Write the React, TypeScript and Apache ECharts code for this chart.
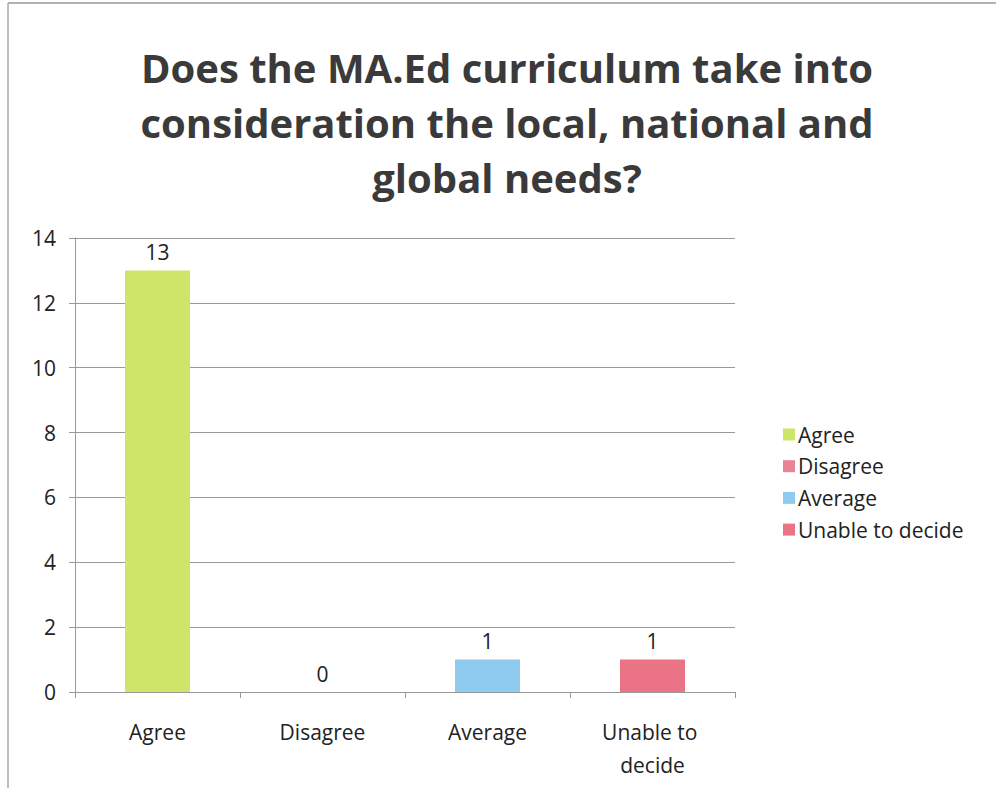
import React, { useEffect, useRef } from "react";
import * as echarts from "echarts";

const titleText = "Does the MA.Ed curriculum take into\nconsideration the local, national and\nglobal needs?";
const categories = ["Agree", "Disagree", "Average", "Unable to decide"];
const values = [13, 0, 1, 1];
const colors = ["#cfe56a", "#ea8494", "#8fcbef", "#ea7486"];
const yTicks = [0, 2, 4, 6, 8, 10, 12, 14];

export default function App() {
  const ref = useRef<HTMLDivElement>(null);
  useEffect(() => {
    if (!ref.current) return;
    const chart = echarts.init(ref.current, null, { renderer: "svg" });
    const font = "Open Sans";
    const series = categories.map((c, i) => ({
      name: c,
      type: "bar",
      stack: "all",
      barWidth: 65,
      data: categories.map((_, j) => (j === i ? values[j] : "-")),
      itemStyle: { color: colors[i] },
      label: {
        show: true,
        position: "top",
        distance: 8,
        color: "#222",
        fontFamily: font,
        fontSize: 21,
      },
    }));
    chart.setOption({
      animation: false,
      backgroundColor: "#fff",
      title: {
        text: titleText,
        left: 502,
        textAlign: "center",
        top: 35,
        textStyle: {
          fontFamily: font,
          fontWeight: "bold",
          fontSize: 40,
          lineHeight: 55,
          color: "#3a3a3a",
        },
      },
      graphic: [
        { type: "line", shape: { x1: 8, y1: 3, x2: 996, y2: 3 }, style: { stroke: "#999", lineWidth: 1.5 } },
        { type: "line", shape: { x1: 8, y1: 3, x2: 8, y2: 788 }, style: { stroke: "#aaa", lineWidth: 1.5 } },
      ],
      legend: {
        orient: "vertical",
        left: 778,
        top: 419,
        itemWidth: 12,
        itemHeight: 12,
        itemGap: 10.7,
        icon: "rect",
        textStyle: { fontFamily: font, fontSize: 21, lineHeight: 21, color: "#222", padding: [0, 0, 0, -2] },
        data: categories,
      },
      grid: { left: 75, right: 261, top: 238, bottom: 96, containLabel: false },
      xAxis: {
        type: "category",
        data: categories,
        axisLine: { show: true, lineStyle: { color: "#999" } },
        axisTick: { show: true, length: 6, lineStyle: { color: "#999" } },
        axisLabel: {
          fontFamily: font,
          fontSize: 21,
          color: "#222",
          margin: 23,
          lineHeight: 33,
          width: 125,
          overflow: "break",
          interval: 0,
        },
      },
      yAxis: {
        type: "value",
        min: 0,
        max: 14,
        interval: 2,
        axisLine: { show: true, lineStyle: { color: "#999" } },
        axisTick: { show: true, length: 6, lineStyle: { color: "#999" } },
        splitLine: { lineStyle: { color: "#999", width: 1.2 } },
        axisLabel: {
          fontFamily: font,
          fontSize: 21,
          color: "#222",
          margin: 19,
          formatter: (v: number) => (yTicks.includes(v) ? String(v) : ""),
        },
      },
      series,
    });
    return () => chart.dispose();
  }, []);
  return (
    <div
      ref={ref}
      style={{ position: "fixed", left: 0, top: 0, width: 996, height: 788 }}
    />
  );
}
